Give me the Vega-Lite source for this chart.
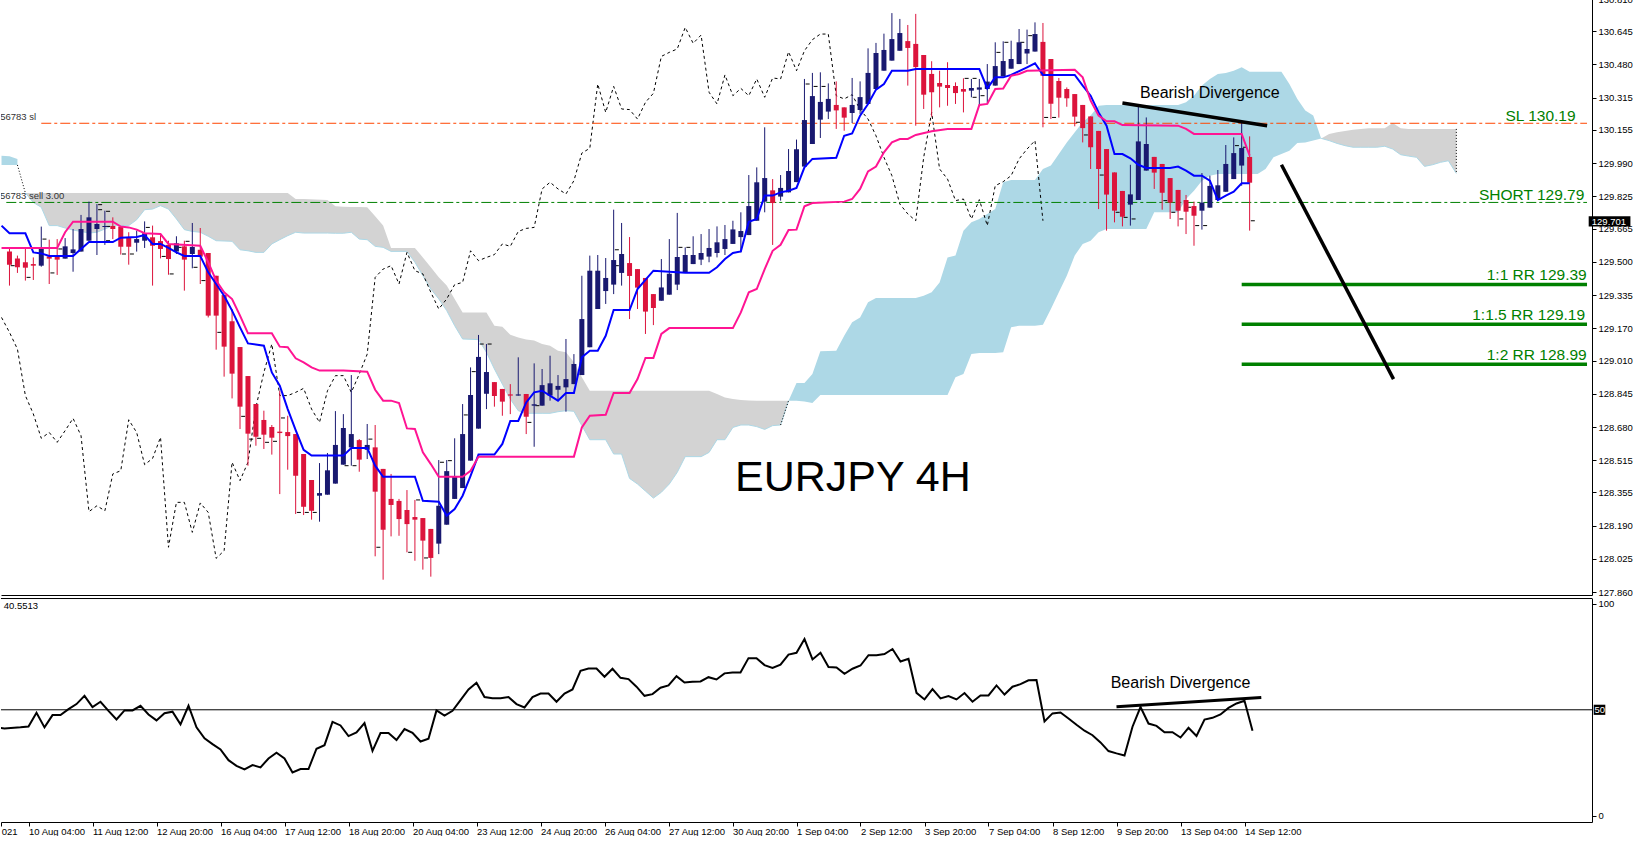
{
"$schema":"https://vega.github.io/schema/vega-lite/v6.json",
"background":"white",
"padding":{"left":0,"top":-6,"right":0,"bottom":0},
"spacing":3,
"bounds":"flush",
"config":{"view":{"stroke":null},"concat":{"spacing":3},"axis":{"labelFont":"Liberation Sans","labelFontSize":9.5,"labelColor":"black","tickColor":"black","domainColor":"black","grid":false,"labelOverlap":false}},
"datasets":{
"candles":[
{"i":-3,"o":129.552,"h":129.564,"l":129.382,"c":129.486},{"i":-2,"o":129.517,"h":129.531,"l":129.445,"c":129.473},{"i":-1,"o":129.498,"h":129.564,"l":129.407,"c":129.471},{"i":0,"o":129.489,"h":129.522,"l":129.41,"c":129.481},{"i":1,"o":129.481,"h":129.675,"l":129.476,"c":129.567},{"i":2,"o":129.527,"h":129.61,"l":129.39,"c":129.516},{"i":3,"o":129.527,"h":129.613,"l":129.435,"c":129.511},{"i":4,"o":129.516,"h":129.618,"l":129.516,"c":129.577},{"i":5,"o":129.544,"h":129.663,"l":129.451,"c":129.562},{"i":6,"o":129.551,"h":129.733,"l":129.551,"c":129.663},
{"i":7,"o":129.605,"h":129.799,"l":129.605,"c":129.721},{"i":8,"o":129.663,"h":129.787,"l":129.534,"c":129.688},{"i":9,"o":129.673,"h":129.754,"l":129.584,"c":129.678},{"i":10,"o":129.678,"h":129.721,"l":129.613,"c":129.663},{"i":11,"o":129.675,"h":129.675,"l":129.536,"c":129.575},{"i":12,"o":129.623,"h":129.647,"l":129.486,"c":129.575},{"i":13,"o":129.595,"h":129.655,"l":129.551,"c":129.613},{"i":14,"o":129.605,"h":129.701,"l":129.569,"c":129.642},{"i":15,"o":129.622,"h":129.68,"l":129.382,"c":129.58},{"i":16,"o":129.603,"h":129.638,"l":129.517,"c":129.564},
{"i":17,"o":129.584,"h":129.605,"l":129.436,"c":129.514},{"i":18,"o":129.551,"h":129.627,"l":129.539,"c":129.592},{"i":19,"o":129.577,"h":129.605,"l":129.357,"c":129.511},{"i":20,"o":129.539,"h":129.693,"l":129.468,"c":129.574},{"i":21,"o":129.56,"h":129.668,"l":129.39,"c":129.526},{"i":22,"o":129.544,"h":129.544,"l":129.224,"c":129.233},{"i":23,"o":129.431,"h":129.431,"l":129.064,"c":129.233},{"i":24,"o":129.335,"h":129.335,"l":128.93,"c":129.079},{"i":25,"o":129.205,"h":129.266,"l":128.822,"c":128.945},{"i":26,"o":129.077,"h":129.077,"l":128.67,"c":128.781},
{"i":27,"o":128.933,"h":128.933,"l":128.488,"c":128.647},{"i":28,"o":128.794,"h":128.794,"l":128.587,"c":128.632},{"i":29,"o":128.715,"h":128.761,"l":128.571,"c":128.642},{"i":30,"o":128.68,"h":128.69,"l":128.543,"c":128.627},{"i":31,"o":128.657,"h":128.86,"l":128.347,"c":128.65},{"i":32,"o":128.655,"h":128.736,"l":128.468,"c":128.635},{"i":33,"o":128.645,"h":128.645,"l":128.248,"c":128.438},{"i":34,"o":128.546,"h":128.546,"l":128.243,"c":128.284},{"i":35,"o":128.417,"h":128.417,"l":128.22,"c":128.264},{"i":36,"o":128.339,"h":128.501,"l":128.21,"c":128.352},
{"i":37,"o":128.344,"h":128.551,"l":128.344,"c":128.465},{"i":38,"o":128.399,"h":128.759,"l":128.399,"c":128.591},{"i":39,"o":128.493,"h":128.744,"l":128.493,"c":128.675},{"i":40,"o":128.579,"h":128.938,"l":128.488,"c":128.645},{"i":41,"o":128.615,"h":128.62,"l":128.458,"c":128.518},{"i":42,"o":128.567,"h":128.695,"l":128.521,"c":128.591},{"i":43,"o":128.579,"h":128.69,"l":128.038,"c":128.359},{"i":44,"o":128.472,"h":128.472,"l":127.922,"c":128.17},{"i":45,"o":128.323,"h":128.447,"l":128.137,"c":128.293},{"i":46,"o":128.313,"h":128.323,"l":128.14,"c":128.223},
{"i":47,"o":128.268,"h":128.367,"l":128.058,"c":128.198},{"i":48,"o":128.233,"h":128.318,"l":128.016,"c":128.22},{"i":49,"o":128.228,"h":128.228,"l":127.972,"c":128.116},{"i":50,"o":128.174,"h":128.174,"l":127.937,"c":128.03},{"i":51,"o":128.101,"h":128.516,"l":128.049,"c":128.289},{"i":52,"o":128.195,"h":128.516,"l":128.195,"c":128.461},{"i":53,"o":128.323,"h":128.624,"l":128.323,"c":128.433},{"i":54,"o":128.377,"h":128.794,"l":128.377,"c":128.645},{"i":55,"o":128.513,"h":128.976,"l":128.513,"c":128.839},{"i":56,"o":128.672,"h":129.137,"l":128.672,"c":129.028},
{"i":57,"o":128.845,"h":129.092,"l":128.769,"c":128.953},{"i":58,"o":128.903,"h":128.903,"l":128.781,"c":128.834},{"i":59,"o":128.869,"h":128.869,"l":128.736,"c":128.806},{"i":60,"o":128.842,"h":128.893,"l":128.744,"c":128.836},{"i":61,"o":128.836,"h":129.026,"l":128.836,"c":128.842},{"i":62,"o":128.844,"h":128.844,"l":128.645,"c":128.731},{"i":63,"o":128.786,"h":128.996,"l":128.582,"c":128.793},{"i":64,"o":128.786,"h":128.968,"l":128.786,"c":128.888},{"i":65,"o":128.836,"h":129.034,"l":128.811,"c":128.897},{"i":66,"o":128.865,"h":128.938,"l":128.811,"c":128.884},
{"i":67,"o":128.877,"h":129.117,"l":128.756,"c":128.918},{"i":68,"o":128.893,"h":129.042,"l":128.893,"c":128.993},{"i":69,"o":128.938,"h":129.431,"l":128.938,"c":129.216},{"i":70,"o":129.076,"h":129.531,"l":129.076,"c":129.456},{"i":71,"o":129.266,"h":129.534,"l":129.266,"c":129.456},{"i":72,"o":129.355,"h":129.519,"l":129.291,"c":129.42},{"i":73,"o":129.387,"h":129.759,"l":129.34,"c":129.509},{"i":74,"o":129.445,"h":129.693,"l":129.382,"c":129.539},{"i":75,"o":129.494,"h":129.623,"l":129.216,"c":129.43},{"i":76,"o":129.464,"h":129.464,"l":129.266,"c":129.372},
{"i":77,"o":129.42,"h":129.42,"l":129.142,"c":129.253},{"i":78,"o":129.34,"h":129.34,"l":129.186,"c":129.271},{"i":79,"o":129.307,"h":129.514,"l":129.307,"c":129.373},{"i":80,"o":129.337,"h":129.613,"l":129.337,"c":129.441},{"i":81,"o":129.387,"h":129.743,"l":129.36,"c":129.524},{"i":82,"o":129.448,"h":129.572,"l":129.448,"c":129.534},{"i":83,"o":129.489,"h":129.627,"l":129.489,"c":129.534},{"i":84,"o":129.511,"h":129.638,"l":129.484,"c":129.544},{"i":85,"o":129.526,"h":129.663,"l":129.498,"c":129.569},{"i":86,"o":129.544,"h":129.676,"l":129.522,"c":129.597},
{"i":87,"o":129.564,"h":129.683,"l":129.534,"c":129.613},{"i":88,"o":129.589,"h":129.704,"l":129.589,"c":129.661},{"i":89,"o":129.623,"h":129.746,"l":129.547,"c":129.653},{"i":90,"o":129.633,"h":129.931,"l":129.633,"c":129.777},{"i":91,"o":129.704,"h":129.969,"l":129.704,"c":129.895},{"i":92,"o":129.799,"h":130.168,"l":129.746,"c":129.916},{"i":93,"o":129.855,"h":129.911,"l":129.584,"c":129.792},{"i":94,"o":129.824,"h":129.931,"l":129.804,"c":129.867},{"i":95,"o":129.845,"h":130.06,"l":129.845,"c":129.951},{"i":96,"o":129.896,"h":130.107,"l":129.896,"c":130.059},
{"i":97,"o":129.973,"h":130.408,"l":129.973,"c":130.204},{"i":98,"o":130.085,"h":130.438,"l":130.085,"c":130.323},{"i":99,"o":130.206,"h":130.441,"l":130.115,"c":130.294},{"i":100,"o":130.246,"h":130.386,"l":130.209,"c":130.309},{"i":101,"o":130.279,"h":130.396,"l":130.16,"c":130.252},{"i":102,"o":130.267,"h":130.267,"l":130.151,"c":130.216},{"i":103,"o":130.239,"h":130.413,"l":130.189,"c":130.279},{"i":104,"o":130.254,"h":130.396,"l":130.234,"c":130.318},{"i":105,"o":130.284,"h":130.56,"l":130.284,"c":130.438},{"i":106,"o":130.358,"h":130.587,"l":130.358,"c":130.537},
{"i":107,"o":130.449,"h":130.633,"l":130.449,"c":130.552},{"i":108,"o":130.499,"h":130.735,"l":130.499,"c":130.606},{"i":109,"o":130.548,"h":130.706,"l":130.548,"c":130.636},{"i":110,"o":130.596,"h":130.676,"l":130.375,"c":130.562},{"i":111,"o":130.582,"h":130.731,"l":130.176,"c":130.467},{"i":112,"o":130.527,"h":130.527,"l":130.259,"c":130.33},{"i":113,"o":130.433,"h":130.496,"l":130.221,"c":130.342},{"i":114,"o":130.388,"h":130.449,"l":130.267,"c":130.37},{"i":115,"o":130.378,"h":130.491,"l":130.275,"c":130.363},{"i":116,"o":130.373,"h":130.391,"l":130.284,"c":130.338},
{"i":117,"o":130.358,"h":130.411,"l":130.242,"c":130.345},{"i":118,"o":130.35,"h":130.408,"l":130.317,"c":130.363},{"i":119,"o":130.355,"h":130.408,"l":130.275,"c":130.366},{"i":120,"o":130.358,"h":130.482,"l":130.284,"c":130.395},{"i":121,"o":130.375,"h":130.59,"l":130.375,"c":130.472},{"i":122,"o":130.421,"h":130.595,"l":130.421,"c":130.497},{"i":123,"o":130.459,"h":130.598,"l":130.459,"c":130.507},{"i":124,"o":130.482,"h":130.656,"l":130.482,"c":130.59},{"i":125,"o":130.534,"h":130.653,"l":130.482,"c":130.557},{"i":126,"o":130.544,"h":130.689,"l":130.544,"c":130.631},
{"i":127,"o":130.592,"h":130.686,"l":130.168,"c":130.424},{"i":128,"o":130.507,"h":130.507,"l":130.209,"c":130.285},{"i":129,"o":130.398,"h":130.413,"l":130.216,"c":130.315},{"i":130,"o":130.358,"h":130.366,"l":130.27,"c":130.312},{"i":131,"o":130.333,"h":130.333,"l":130.173,"c":130.221},{"i":132,"o":130.279,"h":130.279,"l":130.093,"c":130.164},{"i":133,"o":130.222,"h":130.222,"l":129.961,"c":130.069},{"i":134,"o":130.15,"h":130.15,"l":129.762,"c":129.961},{"i":135,"o":130.06,"h":130.06,"l":129.655,"c":129.834},{"i":136,"o":129.944,"h":129.944,"l":129.696,"c":129.754},
{"i":137,"o":129.852,"h":129.852,"l":129.676,"c":129.724},{"i":138,"o":129.784,"h":129.982,"l":129.68,"c":129.835},{"i":139,"o":129.807,"h":130.275,"l":129.807,"c":130.098},{"i":140,"o":129.953,"h":130.217,"l":129.953,"c":130.085},{"i":141,"o":130.021,"h":130.021,"l":129.862,"c":129.943},{"i":142,"o":129.986,"h":129.986,"l":129.759,"c":129.843},{"i":143,"o":129.916,"h":129.916,"l":129.713,"c":129.794},{"i":144,"o":129.857,"h":129.857,"l":129.676,"c":129.754},{"i":145,"o":129.807,"h":129.832,"l":129.638,"c":129.749},{"i":146,"o":129.777,"h":129.799,"l":129.58,"c":129.729},
{"i":147,"o":129.754,"h":129.941,"l":129.66,"c":129.794},{"i":148,"o":129.769,"h":129.928,"l":129.769,"c":129.877},{"i":149,"o":129.807,"h":129.956,"l":129.807,"c":129.88},{"i":150,"o":129.848,"h":130.08,"l":129.848,"c":129.986},{"i":151,"o":129.911,"h":130.118,"l":129.911,"c":130.04},{"i":152,"o":129.978,"h":130.193,"l":129.878,"c":130.065},{"i":153,"o":130.021,"h":130.123,"l":129.655,"c":129.893}],
"wickticks":[{"i":1.4,"p":129.613},{"i":3.4,"p":129.564},{"i":2.4,"p":129.445},{"i":-2.6,"p":129.481},{"i":-0.6,"p":129.423},{"i":11.4,"p":129.539},{"i":12.4,"p":129.539},{"i":8.4,"p":129.784},{"i":8.4,"p":129.759},{"i":9.4,"p":129.751},{"i":9.4,"p":129.676},{"i":9.4,"p":129.605},{"i":14.4,"p":129.671},{"i":16.4,"p":129.527},{"i":17.4,"p":129.44},{"i":19.4,"p":129.602},{"i":20.4,"p":129.473},{"i":21.4,"p":129.407},{"i":18.4,"p":129.572},{"i":23.4,"p":129.15},{"i":26.4,"p":128.733},{"i":27.4,"p":128.62},{"i":28.4,"p":128.624},{"i":29.4,"p":128.604},{"i":30.4,"p":128.609},{"i":31.4,"p":128.725},{"i":33.4,"p":128.256},{"i":34.4,"p":128.256},{"i":35.4,"p":128.256},{"i":39.4,"p":128.488},{"i":40.4,"p":128.488},{"i":42.4,"p":128.62},{"i":43.4,"p":128.083},{"i":47.4,"p":128.058},{"i":48.4,"p":128.318},{"i":49.4,"p":128.03},{"i":51.4,"p":128.505},{"i":52.4,"p":128.513},{"i":54.4,"p":128.74},{"i":55.4,"p":128.955},{"i":56.4,"p":129.092},{"i":57.4,"p":129.092},{"i":62.4,"p":128.703},{"i":63.4,"p":128.786},{"i":73.4,"p":129.56},{"i":73.4,"p":129.481},{"i":81.4,"p":129.572},{"i":82.4,"p":129.572},{"i":97.4,"p":130.383},{"i":98.4,"p":130.371},{"i":99.4,"p":130.371},{"i":117.4,"p":130.411},{"i":118.4,"p":130.411},{"i":118.4,"p":130.317},{"i":119.4,"p":130.325},{"i":121.4,"p":130.54},{"i":122.4,"p":130.59},{"i":124.4,"p":130.59},{"i":125.4,"p":130.623},{"i":127.4,"p":130.217},{"i":128.4,"p":130.217},{"i":131.4,"p":130.193},{"i":132.4,"p":130.13},{"i":134.4,"p":129.931},{"i":136.4,"p":129.746},{"i":137.4,"p":129.721},{"i":138.4,"p":129.713},{"i":142.4,"p":129.804},{"i":143.4,"p":129.746},{"i":144.4,"p":129.713},{"i":145.4,"p":129.771},{"i":146.4,"p":129.68},{"i":147.4,"p":129.68},{"i":151.4,"p":130.077},{"i":152.4,"p":130.069},{"i":153.4,"p":129.704}],
"tenkan":[{"i":-4,"v":129.68},{"i":-3,"v":129.642},{"i":-1,"v":129.642},{"i":0,"v":129.547},{"i":1,"v":129.542},{"i":2,"v":129.529},{"i":5,"v":129.529},{"i":6,"v":129.564},{"i":7,"v":129.598},{"i":10,"v":129.598},{"i":11,"v":129.62},{"i":13,"v":129.623},{"i":14,"v":129.633},{"i":15,"v":129.589},{"i":16,"v":129.589},{"i":17,"v":129.569},{"i":18,"v":129.547},{"i":19,"v":129.529},{"i":21,"v":129.529},{"i":22,"v":129.448},{"i":23,"v":129.39},{"i":24,"v":129.332},{"i":25,"v":129.258},{"i":26,"v":129.175},{"i":27,"v":129.095},{"i":29,"v":129.084},{"i":30,"v":128.951},{"i":31,"v":128.885},{"i":32,"v":128.769},{"i":33,"v":128.665},{"i":34,"v":128.567},{"i":35,"v":128.538},{"i":39,"v":128.538},{"i":40,"v":128.576},{"i":42,"v":128.576},{"i":43,"v":128.488},{"i":44,"v":128.433},{"i":48,"v":128.433},{"i":49,"v":128.314},{"i":51,"v":128.309},{"i":52,"v":128.24},{"i":53,"v":128.273},{"i":54,"v":128.339},{"i":55,"v":128.438},{"i":56,"v":128.543},{"i":58,"v":128.543},{"i":59,"v":128.596},{"i":60,"v":128.71},{"i":61,"v":128.71},{"i":62,"v":128.802},{"i":63,"v":128.852},{"i":64,"v":128.86},{"i":66,"v":128.811},{"i":67,"v":128.849},{"i":68,"v":128.849},{"i":69,"v":129.026},{"i":70,"v":129.059},{"i":71,"v":129.059},{"i":72,"v":129.133},{"i":73,"v":129.261},{"i":75,"v":129.261},{"i":76,"v":129.365},{"i":78,"v":129.456},{"i":82,"v":129.446},{"i":85,"v":129.446},{"i":86,"v":129.473},{"i":87,"v":129.514},{"i":88,"v":129.544},{"i":89,"v":129.552},{"i":90,"v":129.699},{"i":91,"v":129.713},{"i":92,"v":129.829},{"i":93,"v":129.829},{"i":94,"v":129.845},{"i":95,"v":129.853},{"i":96,"v":129.867},{"i":97,"v":129.969},{"i":98,"v":130.011},{"i":101,"v":130.017},{"i":102,"v":130.126},{"i":103,"v":130.138},{"i":104,"v":130.226},{"i":105,"v":130.284},{"i":106,"v":130.355},{"i":107,"v":130.383},{"i":108,"v":130.449},{"i":110,"v":130.449},{"i":111,"v":130.457},{"i":119,"v":130.457},{"i":120,"v":130.361},{"i":121,"v":130.416},{"i":122,"v":130.416},{"i":123,"v":130.428},{"i":125,"v":130.466},{"i":126,"v":130.486},{"i":127,"v":130.428},{"i":131,"v":130.428},{"i":132,"v":130.375},{"i":133,"v":130.325},{"i":134,"v":130.242},{"i":135,"v":130.176},{"i":136,"v":130.035},{"i":137,"v":130.035},{"i":138,"v":130.014},{"i":139,"v":129.982},{"i":140,"v":129.966},{"i":143,"v":129.966},{"i":144,"v":129.973},{"i":145,"v":129.953},{"i":146,"v":129.928},{"i":147,"v":129.928},{"i":148,"v":129.903},{"i":149,"v":129.807},{"i":150,"v":129.829},{"i":151,"v":129.848},{"i":152,"v":129.89},{"i":153,"v":129.89}],
"kijun":[{"i":-4,"v":129.569},{"i":3,"v":129.569},{"i":4,"v":129.647},{"i":5,"v":129.699},{"i":10,"v":129.699},{"i":11,"v":129.675},{"i":12,"v":129.671},{"i":13,"v":129.66},{"i":14,"v":129.642},{"i":16,"v":129.638},{"i":17,"v":129.589},{"i":21,"v":129.58},{"i":22,"v":129.498},{"i":23,"v":129.407},{"i":24,"v":129.349},{"i":25,"v":129.315},{"i":26,"v":129.233},{"i":27,"v":129.145},{"i":30,"v":129.145},{"i":31,"v":129.079},{"i":32,"v":129.076},{"i":33,"v":129.021},{"i":34,"v":129.001},{"i":35,"v":128.976},{"i":36,"v":128.96},{"i":39,"v":128.96},{"i":42,"v":128.955},{"i":43,"v":128.865},{"i":44,"v":128.811},{"i":45,"v":128.811},{"i":46,"v":128.799},{"i":47,"v":128.673},{"i":48,"v":128.67},{"i":49,"v":128.554},{"i":50,"v":128.496},{"i":51,"v":128.433},{"i":54,"v":128.433},{"i":55,"v":128.463},{"i":56,"v":128.533},{"i":68,"v":128.533},{"i":69,"v":128.678},{"i":70,"v":128.736},{"i":72,"v":128.741},{"i":73,"v":128.849},{"i":75,"v":128.849},{"i":76,"v":128.918},{"i":77,"v":129.023},{"i":78,"v":129.023},{"i":79,"v":129.142},{"i":80,"v":129.171},{"i":88,"v":129.171},{"i":89,"v":129.249},{"i":90,"v":129.349},{"i":91,"v":129.365},{"i":92,"v":129.464},{"i":93,"v":129.555},{"i":94,"v":129.585},{"i":95,"v":129.658},{"i":96,"v":129.66},{"i":97,"v":129.776},{"i":98,"v":129.792},{"i":102,"v":129.799},{"i":103,"v":129.812},{"i":104,"v":129.862},{"i":105,"v":129.949},{"i":106,"v":129.973},{"i":107,"v":130.044},{"i":108,"v":130.093},{"i":109,"v":130.11},{"i":110,"v":130.11},{"i":111,"v":130.13},{"i":113,"v":130.148},{"i":115,"v":130.16},{"i":118,"v":130.16},{"i":119,"v":130.279},{"i":120,"v":130.284},{"i":121,"v":130.358},{"i":122,"v":130.361},{"i":123,"v":130.424},{"i":124,"v":130.433},{"i":125,"v":130.449},{"i":131,"v":130.454},{"i":132,"v":130.416},{"i":133,"v":130.3},{"i":134,"v":130.226},{"i":135,"v":130.198},{"i":136,"v":130.198},{"i":137,"v":130.179},{"i":144,"v":130.176},{"i":145,"v":130.16},{"i":146,"v":130.135},{"i":152,"v":130.135},{"i":153,"v":130.027}],
"chikou":[{"i":-4,"v":129.224},{"i":-3,"v":129.15},{"i":-2,"v":129.067},{"i":-1,"v":128.836},{"i":0,"v":128.745},{"i":1,"v":128.624},{"i":2,"v":128.653},{"i":3,"v":128.604},{"i":4,"v":128.662},{"i":5,"v":128.723},{"i":6,"v":128.637},{"i":7,"v":128.26},{"i":8,"v":128.289},{"i":9,"v":128.264},{"i":10,"v":128.447},{"i":11,"v":128.463},{"i":12,"v":128.716},{"i":13,"v":128.653},{"i":14,"v":128.493},{"i":15,"v":128.524},{"i":16,"v":128.629},{"i":17,"v":128.083},{"i":18,"v":128.306},{"i":19,"v":128.306},{"i":20,"v":128.157},{"i":21,"v":128.303},{"i":22,"v":128.256},{"i":23,"v":128.028},{"i":24,"v":128.066},{"i":25,"v":128.505},{"i":26,"v":128.414},{"i":27,"v":128.505},{"i":28,"v":128.778},{"i":29,"v":128.951},{"i":30,"v":129.092},{"i":31,"v":128.836},{"i":32,"v":128.836},{"i":33,"v":128.852},{"i":34,"v":128.872},{"i":35,"v":128.769},{"i":36,"v":128.703},{"i":37,"v":128.86},{"i":38,"v":128.935},{"i":39,"v":128.935},{"i":40,"v":128.852},{"i":41,"v":128.943},{"i":42,"v":129.042},{"i":43,"v":129.423},{"i":44,"v":129.464},{"i":45,"v":129.481},{"i":46,"v":129.39},{"i":47,"v":129.547},{"i":48,"v":129.456},{"i":49,"v":129.44},{"i":50,"v":129.349},{"i":51,"v":129.266},{"i":52,"v":129.316},{"i":53,"v":129.387},{"i":54,"v":129.398},{"i":55,"v":129.555},{"i":56,"v":129.506},{"i":57,"v":129.522},{"i":58,"v":129.536},{"i":59,"v":129.589},{"i":60,"v":129.577},{"i":61,"v":129.651},{"i":62,"v":129.666},{"i":63,"v":129.671},{"i":64,"v":129.862},{"i":65,"v":129.895},{"i":66,"v":129.862},{"i":67,"v":129.837},{"i":68,"v":129.903},{"i":69,"v":130.04},{"i":70,"v":130.064},{"i":71,"v":130.383},{"i":72,"v":130.242},{"i":73,"v":130.371},{"i":74,"v":130.259},{"i":75,"v":130.256},{"i":76,"v":130.209},{"i":77,"v":130.292},{"i":78,"v":130.337},{"i":79,"v":130.52},{"i":80,"v":130.54},{"i":81,"v":130.557},{"i":82,"v":130.664},{"i":83,"v":130.585},{"i":84,"v":130.626},{"i":85,"v":130.342},{"i":86,"v":130.284},{"i":87,"v":130.428},{"i":88,"v":130.325},{"i":89,"v":130.361},{"i":90,"v":130.325},{"i":91,"v":130.408},{"i":92,"v":130.317},{"i":93,"v":130.413},{"i":94,"v":130.408},{"i":95,"v":130.543},{"i":96,"v":130.449},{"i":97,"v":130.548},{"i":98,"v":130.603},{"i":99,"v":130.631},{"i":100,"v":130.631},{"i":101,"v":130.325},{"i":102,"v":130.309},{"i":103,"v":130.33},{"i":104,"v":130.256},{"i":105,"v":130.209},{"i":106,"v":130.126},{"i":107,"v":130.019},{"i":108,"v":129.928},{"i":109,"v":129.787},{"i":110,"v":129.738},{"i":111,"v":129.704},{"i":112,"v":130.019},{"i":113,"v":130.242},{"i":114,"v":129.961},{"i":115,"v":129.911},{"i":116,"v":129.804},{"i":117,"v":129.812},{"i":118,"v":129.713},{"i":119,"v":129.809},{"i":120,"v":129.68},{"i":121,"v":129.878},{"i":122,"v":129.898},{"i":123,"v":129.928},{"i":124,"v":130.011},{"i":125,"v":130.06},{"i":126,"v":130.102},{"i":127,"v":129.704}],
"cloud":[
{"s":"b0","k":"blue","i":-4,"hi":130.027,"lo":129.981},{"s":"b0","k":"blue","i":-3,"hi":130.024,"lo":129.981},{"s":"b0","k":"blue","i":-2,"hi":130.011,"lo":129.981},
{"s":"g1","k":"grey","i":-1,"hi":129.842,"lo":129.842},{"s":"g1","k":"grey","i":0,"hi":129.842,"lo":129.795},{"s":"g1","k":"grey","i":1,"hi":129.842,"lo":129.771},{"s":"g1","k":"grey","i":2,"hi":129.842,"lo":129.68},{"s":"g1","k":"grey","i":3,"hi":129.842,"lo":129.68},{"s":"g1","k":"grey","i":4,"hi":129.842,"lo":129.668},{"s":"g1","k":"grey","i":5,"hi":129.842,"lo":129.658},{"s":"g1","k":"grey","i":6,"hi":129.842,"lo":129.651},{"s":"g1","k":"grey","i":7,"hi":129.842,"lo":129.643},{"s":"g1","k":"grey","i":8,"hi":129.842,"lo":129.647},{"s":"g1","k":"grey","i":9,"hi":129.842,"lo":129.663},{"s":"g1","k":"grey","i":10,"hi":129.842,"lo":129.68},{"s":"g1","k":"grey","i":12,"hi":129.842,"lo":129.68},{"s":"g1","k":"grey","i":13,"hi":129.842,"lo":129.709},{"s":"g1","k":"grey","i":14,"hi":129.842,"lo":129.759},{"s":"g1","k":"grey","i":15,"hi":129.842,"lo":129.762},{"s":"g1","k":"grey","i":16,"hi":129.842,"lo":129.779},{"s":"g1","k":"grey","i":17,"hi":129.842,"lo":129.762},{"s":"g1","k":"grey","i":18,"hi":129.842,"lo":129.713},{"s":"g1","k":"grey","i":19,"hi":129.842,"lo":129.66},{"s":"g1","k":"grey","i":20,"hi":129.842,"lo":129.651},{"s":"g1","k":"grey","i":21,"hi":129.842,"lo":129.647},{"s":"g1","k":"grey","i":22,"hi":129.842,"lo":129.627},{"s":"g1","k":"grey","i":23,"hi":129.842,"lo":129.605},{"s":"g1","k":"grey","i":25,"hi":129.842,"lo":129.602},{"s":"g1","k":"grey","i":26,"hi":129.842,"lo":129.56},{"s":"g1","k":"grey","i":27,"hi":129.842,"lo":129.555},{"s":"g1","k":"grey","i":28,"hi":129.842,"lo":129.547},{"s":"g1","k":"grey","i":29,"hi":129.842,"lo":129.547},{"s":"g1","k":"grey","i":30,"hi":129.842,"lo":129.589},{"s":"g1","k":"grey","i":31,"hi":129.842,"lo":129.61},{"s":"g1","k":"grey","i":32,"hi":129.842,"lo":129.63},{"s":"g1","k":"grey","i":33,"hi":129.812,"lo":129.647},{"s":"g1","k":"grey","i":34,"hi":129.812,"lo":129.643},{"s":"g1","k":"grey","i":37,"hi":129.807,"lo":129.643},{"s":"g1","k":"grey","i":38,"hi":129.776,"lo":129.642},{"s":"g1","k":"grey","i":39,"hi":129.774,"lo":129.642},{"s":"g1","k":"grey","i":40,"hi":129.772,"lo":129.647},{"s":"g1","k":"grey","i":41,"hi":129.772,"lo":129.613},{"s":"g1","k":"grey","i":42,"hi":129.771,"lo":129.61},{"s":"g1","k":"grey","i":43,"hi":129.726,"lo":129.577},{"s":"g1","k":"grey","i":44,"hi":129.68,"lo":129.572},{"s":"g1","k":"grey","i":45,"hi":129.569,"lo":129.552},{"s":"g1","k":"grey","i":47,"hi":129.569,"lo":129.552},{"s":"g1","k":"grey","i":48,"hi":129.569,"lo":129.498},{"s":"g1","k":"grey","i":49,"hi":129.522,"lo":129.431},{"s":"g1","k":"grey","i":50,"hi":129.473,"lo":129.365},{"s":"g1","k":"grey","i":51,"hi":129.423,"lo":129.316},{"s":"g1","k":"grey","i":52,"hi":129.382,"lo":129.258},{"s":"g1","k":"grey","i":53,"hi":129.316,"lo":129.183},{"s":"g1","k":"grey","i":54,"hi":129.249,"lo":129.117},{"s":"g1","k":"grey","i":56,"hi":129.249,"lo":129.114},{"s":"g1","k":"grey","i":57,"hi":129.249,"lo":129.051},{"s":"g1","k":"grey","i":58,"hi":129.183,"lo":128.968},{"s":"g1","k":"grey","i":59,"hi":129.178,"lo":128.893},{"s":"g1","k":"grey","i":60,"hi":129.138,"lo":128.819},{"s":"g1","k":"grey","i":61,"hi":129.125,"lo":128.761},{"s":"g1","k":"grey","i":62,"hi":129.114,"lo":128.748},{"s":"g1","k":"grey","i":63,"hi":129.109,"lo":128.748},{"s":"g1","k":"grey","i":64,"hi":129.092,"lo":128.748},{"s":"g1","k":"grey","i":65,"hi":129.084,"lo":128.748},{"s":"g1","k":"grey","i":66,"hi":129.059,"lo":128.756},{"s":"g1","k":"grey","i":67,"hi":129.051,"lo":128.761},{"s":"g1","k":"grey","i":68,"hi":129.001,"lo":128.758},{"s":"g1","k":"grey","i":69,"hi":128.927,"lo":128.687},{"s":"g1","k":"grey","i":70,"hi":128.86,"lo":128.617},{"s":"g1","k":"grey","i":72,"hi":128.86,"lo":128.617},{"s":"g1","k":"grey","i":73,"hi":128.86,"lo":128.546},{"s":"g1","k":"grey","i":74,"hi":128.86,"lo":128.546},{"s":"g1","k":"grey","i":75,"hi":128.86,"lo":128.425},{"s":"g1","k":"grey","i":76,"hi":128.86,"lo":128.397},{"s":"g1","k":"grey","i":77,"hi":128.86,"lo":128.362},{"s":"g1","k":"grey","i":78,"hi":128.86,"lo":128.327},{"s":"g1","k":"grey","i":79,"hi":128.86,"lo":128.356},{"s":"g1","k":"grey","i":80,"hi":128.86,"lo":128.397},{"s":"g1","k":"grey","i":81,"hi":128.86,"lo":128.455},{"s":"g1","k":"grey","i":82,"hi":128.86,"lo":128.533},{"s":"g1","k":"grey","i":84,"hi":128.86,"lo":128.533},{"s":"g1","k":"grey","i":85,"hi":128.86,"lo":128.554},{"s":"g1","k":"grey","i":86,"hi":128.844,"lo":128.617},{"s":"g1","k":"grey","i":87,"hi":128.827,"lo":128.617},{"s":"g1","k":"grey","i":88,"hi":128.819,"lo":128.678},{"s":"g1","k":"grey","i":89,"hi":128.814,"lo":128.69},{"s":"g1","k":"grey","i":90,"hi":128.812,"lo":128.69},{"s":"g1","k":"grey","i":91,"hi":128.811,"lo":128.682},{"s":"g1","k":"grey","i":92,"hi":128.811,"lo":128.668},{"s":"g1","k":"grey","i":93,"hi":128.811,"lo":128.687},{"s":"g1","k":"grey","i":94,"hi":128.811,"lo":128.69},{"s":"g1","k":"grey","i":95,"hi":128.811,"lo":128.811},
{"s":"b1","k":"blue","i":95,"hi":128.811,"lo":128.811},{"s":"b1","k":"blue","i":96,"hi":128.898,"lo":128.811},{"s":"b1","k":"blue","i":97,"hi":128.898,"lo":128.807},{"s":"b1","k":"blue","i":98,"hi":128.943,"lo":128.799},{"s":"b1","k":"blue","i":99,"hi":129.056,"lo":128.839},{"s":"b1","k":"blue","i":101,"hi":129.059,"lo":128.839},{"s":"b1","k":"blue","i":102,"hi":129.133,"lo":128.839},{"s":"b1","k":"blue","i":103,"hi":129.2,"lo":128.839},{"s":"b1","k":"blue","i":104,"hi":129.224,"lo":128.839},{"s":"b1","k":"blue","i":105,"hi":129.299,"lo":128.839},{"s":"b1","k":"blue","i":106,"hi":129.32,"lo":128.839},{"s":"b1","k":"blue","i":111,"hi":129.32,"lo":128.839},{"s":"b1","k":"blue","i":112,"hi":129.332,"lo":128.839},{"s":"b1","k":"blue","i":113,"hi":129.349,"lo":128.839},{"s":"b1","k":"blue","i":114,"hi":129.398,"lo":128.839},{"s":"b1","k":"blue","i":115,"hi":129.522,"lo":128.839},{"s":"b1","k":"blue","i":116,"hi":129.531,"lo":128.927},{"s":"b1","k":"blue","i":117,"hi":129.655,"lo":128.943},{"s":"b1","k":"blue","i":118,"hi":129.696,"lo":129.042},{"s":"b1","k":"blue","i":119,"hi":129.713,"lo":129.047},{"s":"b1","k":"blue","i":120,"hi":129.738,"lo":129.047},{"s":"b1","k":"blue","i":121,"hi":129.762,"lo":129.047},{"s":"b1","k":"blue","i":122,"hi":129.895,"lo":129.051},{"s":"b1","k":"blue","i":123,"hi":129.906,"lo":129.175},{"s":"b1","k":"blue","i":124,"hi":129.906,"lo":129.183},{"s":"b1","k":"blue","i":126,"hi":129.906,"lo":129.183},{"s":"b1","k":"blue","i":127,"hi":129.961,"lo":129.188},{"s":"b1","k":"blue","i":128,"hi":129.978,"lo":129.266},{"s":"b1","k":"blue","i":129,"hi":130.035,"lo":129.349},{"s":"b1","k":"blue","i":130,"hi":130.093,"lo":129.431},{"s":"b1","k":"blue","i":131,"hi":130.143,"lo":129.531},{"s":"b1","k":"blue","i":132,"hi":130.193,"lo":129.589},{"s":"b1","k":"blue","i":133,"hi":130.226,"lo":129.605},{"s":"b1","k":"blue","i":134,"hi":130.275,"lo":129.647},{"s":"b1","k":"blue","i":135,"hi":130.279,"lo":129.663},{"s":"b1","k":"blue","i":140,"hi":130.279,"lo":129.663},{"s":"b1","k":"blue","i":141,"hi":130.279,"lo":129.746},{"s":"b1","k":"blue","i":144,"hi":130.279,"lo":129.746},{"s":"b1","k":"blue","i":145,"hi":130.292,"lo":129.812},{"s":"b1","k":"blue","i":146,"hi":130.325,"lo":129.853},{"s":"b1","k":"blue","i":147,"hi":130.375,"lo":129.903},{"s":"b1","k":"blue","i":148,"hi":130.408,"lo":129.928},{"s":"b1","k":"blue","i":149,"hi":130.433,"lo":129.936},{"s":"b1","k":"blue","i":150,"hi":130.438,"lo":129.936},{"s":"b1","k":"blue","i":151,"hi":130.449,"lo":129.936},{"s":"b1","k":"blue","i":152,"hi":130.466,"lo":129.936},{"s":"b1","k":"blue","i":153,"hi":130.444,"lo":129.936},{"s":"b1","k":"blue","i":154,"hi":130.444,"lo":129.936},{"s":"b1","k":"blue","i":155,"hi":130.444,"lo":129.961},{"s":"b1","k":"blue","i":156,"hi":130.444,"lo":130.019},{"s":"b1","k":"blue","i":157,"hi":130.444,"lo":130.035},{"s":"b1","k":"blue","i":158,"hi":130.383,"lo":130.052},{"s":"b1","k":"blue","i":159,"hi":130.309,"lo":130.09},{"s":"b1","k":"blue","i":160,"hi":130.251,"lo":130.093},{"s":"b1","k":"blue","i":161,"hi":130.226,"lo":130.102},{"s":"b1","k":"blue","i":162,"hi":130.113,"lo":130.113},
{"s":"g2","k":"grey","i":162,"hi":130.113,"lo":130.113},{"s":"g2","k":"grey","i":163,"hi":130.135,"lo":130.102},{"s":"g2","k":"grey","i":164,"hi":130.143,"lo":130.088},{"s":"g2","k":"grey","i":165,"hi":130.15,"lo":130.077},{"s":"g2","k":"grey","i":166,"hi":130.156,"lo":130.069},{"s":"g2","k":"grey","i":167,"hi":130.16,"lo":130.069},{"s":"g2","k":"grey","i":168,"hi":130.163,"lo":130.069},{"s":"g2","k":"grey","i":169,"hi":130.163,"lo":130.069},{"s":"g2","k":"grey","i":170,"hi":130.163,"lo":130.074},{"s":"g2","k":"grey","i":171,"hi":130.189,"lo":130.06},{"s":"g2","k":"grey","i":172,"hi":130.163,"lo":130.032},{"s":"g2","k":"grey","i":173,"hi":130.16,"lo":130.025},{"s":"g2","k":"grey","i":174,"hi":130.16,"lo":130.019},{"s":"g2","k":"grey","i":175,"hi":130.16,"lo":129.974},{"s":"g2","k":"grey","i":176,"hi":130.16,"lo":129.982},{"s":"g2","k":"grey","i":177,"hi":130.16,"lo":129.994},{"s":"g2","k":"grey","i":178,"hi":130.16,"lo":130.002},{"s":"g2","k":"grey","i":179,"hi":130.16,"lo":129.939}],
"cloudjoin":[{"s":"a","i":-2,"v":129.981},{"s":"a","i":-1,"v":129.842},{"s":"b","i":94,"v":128.69},{"s":"b","i":95,"v":128.811},{"s":"c","i":179,"v":130.16},{"s":"c","i":179,"v":129.939}],
"levels":[{"k":"sl","i":1,"i2":195.44,"p":130.188},{"k":"short","i":-3.4,"i2":195.44,"p":129.795}],
"targets":[{"i":152,"i2":195.44,"p":129.388},{"i":152,"i2":195.44,"p":129.19},{"i":152,"i2":195.44,"p":128.991}],
"drawn":[{"s":"div","i":137,"p":130.289},{"s":"div","i":155.2,"p":130.176},{"s":"arrow","i":157,"p":129.982},{"s":"arrow","i":171.1,"p":128.918}],
"greenlabels":[{"i":194,"p":130.226,"t":"SL 130.19"},{"i":195.1,"p":129.832,"t":"SHORT 129.79"},{"i":195.4,"p":129.435,"t":"1:1 RR 129.39"},{"i":195.2,"p":129.236,"t":"1:1.5 RR 129.19"},{"i":195.4,"p":129.037,"t":"1:2 RR 128.99"}],
"ordertext":[{"i":0.35,"p":130.217,"t":"56783 sl"},{"i":3.9,"p":129.825,"t":"56783 sell 3.00"}],
"pricetag":[{"i":195.65,"i2":200.9,"p":129.726,"p2":129.675}],
"rsi":[{"i":-4,"v":41.7},{"i":-3,"v":41.2},{"i":-1,"v":41.7},{"i":0,"v":42.1},{"i":1,"v":48.6},{"i":2,"v":41.7},{"i":3,"v":47.5},{"i":4,"v":47.5},{"i":5,"v":50.3},{"i":6,"v":52.7},{"i":7,"v":56.6},{"i":8,"v":51.3},{"i":9,"v":53.8},{"i":10,"v":49.5},{"i":11,"v":45.4},{"i":12,"v":49.7},{"i":13,"v":49.7},{"i":14,"v":51.9},{"i":15,"v":47.8},{"i":16,"v":45},{"i":17,"v":48.4},{"i":18,"v":49.1},{"i":19,"v":43.1},{"i":20,"v":51.9},{"i":21,"v":41.7},{"i":22,"v":36.5},{"i":23,"v":33.8},{"i":24,"v":31.3},{"i":25,"v":26.2},{"i":26,"v":23.5},{"i":27,"v":21.8},{"i":28,"v":23.9},{"i":29,"v":22.8},{"i":30,"v":27},{"i":31,"v":29.7},{"i":32,"v":27},{"i":33,"v":20.4},{"i":34,"v":22},{"i":35,"v":22},{"i":36,"v":31.6},{"i":37,"v":33.3},{"i":38,"v":44.3},{"i":39,"v":42.6},{"i":40,"v":37.6},{"i":41,"v":39.3},{"i":42,"v":43.7},{"i":43,"v":30.6},{"i":44,"v":39},{"i":45,"v":39},{"i":46,"v":35.7},{"i":47,"v":40.9},{"i":48,"v":39.1},{"i":49,"v":35},{"i":50,"v":36.3},{"i":51,"v":49.7},{"i":52,"v":47.3},{"i":53,"v":49.5},{"i":54,"v":54.6},{"i":55,"v":59.6},{"i":56,"v":62.8},{"i":57,"v":56},{"i":58,"v":55.5},{"i":59,"v":55.5},{"i":60,"v":56},{"i":61,"v":52.7},{"i":62,"v":51.1},{"i":63,"v":56},{"i":64,"v":57.7},{"i":65,"v":57.7},{"i":66,"v":53.8},{"i":67,"v":57.7},{"i":68,"v":59.6},{"i":69,"v":68.4},{"i":70,"v":69.5},{"i":71,"v":69.5},{"i":72,"v":65.6},{"i":73,"v":69.4},{"i":74,"v":65.1},{"i":75,"v":64.5},{"i":76,"v":60.9},{"i":77,"v":56.6},{"i":78,"v":57.4},{"i":79,"v":60.4},{"i":80,"v":61.5},{"i":81,"v":65.9},{"i":82,"v":62.9},{"i":83,"v":63.2},{"i":84,"v":63.4},{"i":85,"v":65.4},{"i":86,"v":64.3},{"i":87,"v":67.2},{"i":88,"v":67.6},{"i":89,"v":67.6},{"i":90,"v":74.4},{"i":91,"v":74.4},{"i":92,"v":71.1},{"i":93,"v":69.8},{"i":94,"v":71.3},{"i":95,"v":76.1},{"i":96,"v":76.9},{"i":97,"v":83.4},{"i":98,"v":73.8},{"i":99,"v":76.9},{"i":100,"v":70.2},{"i":101,"v":70},{"i":102,"v":67},{"i":103,"v":69.4},{"i":104,"v":70.9},{"i":105,"v":75.8},{"i":106,"v":75.8},{"i":107,"v":76.3},{"i":108,"v":78.7},{"i":109,"v":72.8},{"i":110,"v":74.1},{"i":111,"v":58},{"i":112,"v":54.9},{"i":113,"v":59.8},{"i":114,"v":55.4},{"i":115,"v":56.5},{"i":116,"v":54.9},{"i":117,"v":57.9},{"i":118,"v":53.8},{"i":119,"v":56.8},{"i":120,"v":56.8},{"i":121,"v":61.5},{"i":122,"v":57.2},{"i":123,"v":60.9},{"i":124,"v":62.1},{"i":125,"v":63.9},{"i":126,"v":64},{"i":127,"v":44.5},{"i":128,"v":48.3},{"i":129,"v":48.7},{"i":130,"v":45.9},{"i":131,"v":42.9},{"i":132,"v":40.1},{"i":133,"v":38},{"i":134,"v":34.6},{"i":135,"v":30.5},{"i":136,"v":29.4},{"i":137,"v":28.4},{"i":138,"v":42},{"i":139,"v":51.3},{"i":140,"v":43.5},{"i":141,"v":42.4},{"i":142,"v":39.4},{"i":143,"v":39.4},{"i":144,"v":36.9},{"i":145,"v":41.5},{"i":146,"v":37.6},{"i":147,"v":45.4},{"i":148,"v":46.2},{"i":149,"v":47.8},{"i":150,"v":50.9},{"i":151,"v":53},{"i":152,"v":54.3},{"i":153,"v":40.1}],
"rsilevels":[{"i":-3.44,"i2":195.44,"v":50},{"i":-3.44,"i2":195.44,"v":102.55}],
"rsidrawn":[{"i":136,"v":51.4},{"i":154.1,"v":55.8}],
"rsitag":[{"i":195.65,"i2":197.1,"v":52.4,"v2":47.6}]
},
"vconcat":[
{
"width":1591,"height":596,
"encoding":{"x":{"field":"i","type":"quantitative","title":null,"scale":{"domain":[-3.4375,195.4375],"nice":false,"zero":false},"axis":{"labels":false,"ticks":false,"domain":true,"grid":false}}},
"layer":[
{"data":{"name":"cloud"},"mark":{"type":"area","clip":true,"opacity":1,"interpolate":"linear"},
 "encoding":{"y":{"field":"hi","type":"quantitative","title":null,"scale":{"domain":[127.846,130.805],"nice":false,"zero":false},"axis":{"orient":"right","values":[127.86,128.025,128.19,128.355,128.515,128.68,128.845,129.01,129.17,129.335,129.5,129.665,129.825,129.99,130.155,130.315,130.48,130.645,130.805],"labelExpr":"datum.value>130.8?'130.810':format(datum.value,'.3f')","tickCount":40,"tickSize":4,"labelPadding":2,"labelBound":false,"labelOverlap":false,"grid":false}},"y2":{"field":"lo"},"detail":{"field":"s"},"color":{"field":"k","type":"nominal","scale":{"domain":["blue","grey","sl","short"],"range":["#ADD8E6","#D3D3D3","#FF4500","#008000"]},"legend":null}}},
{"data":{"name":"cloud"},"transform":[{"filter":"datum.k=='grey'"}],"mark":{"type":"line","clip":true,"color":"#ADD8E6","strokeWidth":1},"encoding":{"y":{"field":"lo","type":"quantitative","title":null},"detail":{"field":"s"}}},
{"data":{"name":"cloudjoin"},"mark":{"type":"line","clip":true,"color":"black","strokeWidth":1,"strokeDash":[1,2]},"encoding":{"y":{"field":"v","type":"quantitative","title":null},"detail":{"field":"s"}}},
{"data":{"name":"chikou"},"mark":{"type":"line","clip":true,"color":"black","strokeWidth":1,"strokeDash":[3,3]},"encoding":{"y":{"field":"v","type":"quantitative","title":null}}},
{"data":{"name":"levels"},"mark":{"type":"rule","strokeWidth":1,"strokeDash":[10,3,3,3]},"encoding":{"x2":{"field":"i2"},"y":{"field":"p","type":"quantitative","title":null},"color":{"field":"k","type":"nominal","legend":null}}},
{"data":{"name":"candles"},"mark":{"type":"rule","strokeWidth":1},"encoding":{"y":{"field":"l","type":"quantitative","title":null},"y2":{"field":"h"},"color":{"condition":{"test":"datum.c>datum.o","value":"#191970"},"value":"#DC143C"}}},
{"data":{"name":"wickticks"},"mark":{"type":"tick","orient":"horizontal","size":4,"thickness":1,"color":"black","opacity":1},"encoding":{"y":{"field":"p","type":"quantitative","title":null}}},
{"data":{"name":"candles"},"mark":{"type":"bar","size":5,"orient":"vertical"},"encoding":{"y":{"field":"o","type":"quantitative","title":null},"y2":{"field":"c"},"color":{"condition":{"test":"datum.c>datum.o","value":"#191970"},"value":"#DC143C"}}},
{"data":{"name":"tenkan"},"mark":{"type":"line","clip":true,"color":"#0000FF","strokeWidth":2},"encoding":{"y":{"field":"v","type":"quantitative","title":null}}},
{"data":{"name":"kijun"},"mark":{"type":"line","clip":true,"color":"#FF1493","strokeWidth":2},"encoding":{"y":{"field":"v","type":"quantitative","title":null}}},
{"data":{"name":"targets"},"mark":{"type":"rule","color":"#008000","strokeWidth":3.5},"encoding":{"x2":{"field":"i2"},"y":{"field":"p","type":"quantitative","title":null}}},
{"data":{"name":"drawn"},"mark":{"type":"line","color":"black","strokeWidth":3.5},"encoding":{"y":{"field":"p","type":"quantitative","title":null},"detail":{"field":"s"}}},
{"data":{"name":"greenlabels"},"mark":{"type":"text","align":"right","baseline":"middle","font":"Liberation Sans","fontSize":15.5,"color":"#008000"},"encoding":{"y":{"field":"p","type":"quantitative","title":null},"text":{"field":"t"}}},
{"data":{"name":"ordertext"},"mark":{"type":"text","clip":true,"align":"right","baseline":"middle","font":"Liberation Sans","fontSize":9.5,"color":"#333333"},"encoding":{"y":{"field":"p","type":"quantitative","title":null},"text":{"field":"t"}}},
{"data":{"values":[{"i":148,"p":130.337,"t":"Bearish Divergence"}]},"mark":{"type":"text","align":"center","baseline":"middle","font":"Liberation Sans","fontSize":16,"color":"black"},"encoding":{"y":{"field":"p","type":"quantitative","title":null},"text":{"field":"t"}}},
{"data":{"values":[{"i":103.1,"p":128.427,"t":"EURJPY 4H"}]},"mark":{"type":"text","align":"center","baseline":"middle","font":"Liberation Sans","fontSize":43,"color":"black"},"encoding":{"y":{"field":"p","type":"quantitative","title":null},"text":{"field":"t"}}},
{"data":{"name":"pricetag"},"mark":{"type":"rect","color":"black"},"encoding":{"x2":{"field":"i2"},"y":{"field":"p","type":"quantitative","title":null},"y2":{"field":"p2"}}},
{"data":{"values":[{"i":198.2,"p":129.7,"t":"129.701"}]},"mark":{"type":"text","align":"center","baseline":"middle","font":"Liberation Sans","fontSize":9.5,"color":"white"},"encoding":{"y":{"field":"p","type":"quantitative","title":null},"text":{"field":"t"}}}
]
},
{
"width":1591,"height":224,
"encoding":{"x":{"field":"i","type":"quantitative","title":null,"scale":{"domain":[-3.4375,195.4375],"nice":false,"zero":false},"axis":{"values":[-3.4,0,8,16,24,32,40,48,56,64,72,80,88,96,104,112,120,128,136,144,152],"labelExpr":"datum.value<0?'021':['10 Aug 04:00','11 Aug 12:00','12 Aug 20:00','16 Aug 04:00','17 Aug 12:00','18 Aug 20:00','20 Aug 04:00','23 Aug 12:00','24 Aug 20:00','26 Aug 04:00','27 Aug 12:00','30 Aug 20:00','1 Sep 04:00','2 Sep 12:00','3 Sep 20:00','7 Sep 04:00','8 Sep 12:00','9 Sep 20:00','13 Sep 04:00','14 Sep 12:00'][datum.value/8]","labelAlign":"left","labelBound":false,"labelFlush":false,"labelOverlap":false,"tickCount":40,"tickSize":4,"labelPadding":0,"grid":false}}},
"layer":[
{"data":{"name":"rsilevels"},"mark":{"type":"rule","color":"black","strokeWidth":1},"encoding":{"x2":{"field":"i2"},"y":{"field":"v","type":"quantitative","title":null,"scale":{"domain":[-3,102.8],"nice":false,"zero":false},"axis":{"orient":"right","values":[0,100],"tickSize":4,"labelPadding":2,"grid":false}}}},
{"data":{"name":"rsi"},"mark":{"type":"line","clip":true,"color":"black","strokeWidth":2},"encoding":{"y":{"field":"v","type":"quantitative","title":null}}},
{"data":{"name":"rsidrawn"},"mark":{"type":"line","color":"black","strokeWidth":3},"encoding":{"y":{"field":"v","type":"quantitative","title":null}}},
{"data":{"values":[{"i":144,"v":62.8,"t":"Bearish Divergence"}]},"mark":{"type":"text","align":"center","baseline":"middle","font":"Liberation Sans","fontSize":16,"color":"black"},"encoding":{"y":{"field":"v","type":"quantitative","title":null},"text":{"field":"t"}}},
{"data":{"values":[{"i":-3.1,"v":99.1,"t":"40.5513"}]},"mark":{"type":"text","align":"left","baseline":"middle","font":"Liberation Sans","fontSize":9.5,"color":"black"},"encoding":{"y":{"field":"v","type":"quantitative","title":null},"text":{"field":"t"}}},
{"data":{"name":"rsitag"},"mark":{"type":"rect","color":"black"},"encoding":{"x2":{"field":"i2"},"y":{"field":"v","type":"quantitative","title":null},"y2":{"field":"v2"}}},
{"data":{"values":[{"i":196.4,"v":50,"t":"50"}]},"mark":{"type":"text","align":"center","baseline":"middle","font":"Liberation Sans","fontSize":9.5,"color":"white"},"encoding":{"y":{"field":"v","type":"quantitative","title":null},"text":{"field":"t"}}}
]
}
]
}
